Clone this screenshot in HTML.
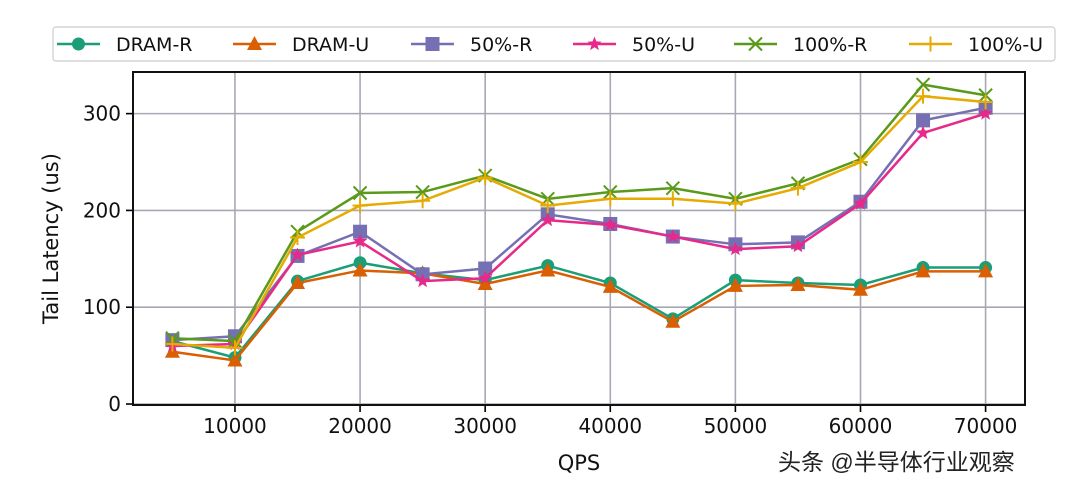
<!DOCTYPE html>
<html><head><meta charset="utf-8"><style>
html,body{margin:0;padding:0;background:#fff;}
svg{display:block;font-family:"DejaVu Sans","Liberation Sans","Noto Sans CJK SC",sans-serif;}
</style></head><body>
<svg id="chart" width="1072" height="488" viewBox="0 0 1072 488"></svg>
<script>
const qps=[5000,10000,15000,20000,25000,30000,35000,40000,45000,50000,55000,60000,65000,70000];
const dramR=[65,48,127,146,135,128,143,125,88,128,125,123,141,141];
const dramU=[54,45,125,138,135,124,138,121,85,122,123,118,137,137];
const half_R=[66,70,153,178,134,140,196,186,173,165,167,209,293,306];
const half_U=[60,62,154,168,127,130,190,185,173,160,163,207,280,300];
const full_R=[68,65,178,218,219,236,212,219,223,212,228,253,330,319];
const full_U=[62,58,172,205,210,234,205,212,212,207,223,250,318,312];
const xTicks=[10000,20000,30000,40000,50000,60000,70000];
const yTicks=[0,100,200,300];
const seriesNames=["DRAM-R","DRAM-U","50%-R","50%-U","100%-R","100%-U"];

const NS="http://www.w3.org/2000/svg";
const svg=document.getElementById('chart');
const L=133,R=1025,T=72,B=405;
const xMin=1850,xMax=73150,yMin=-1,yMax=343;
const X=q=>L+(q-xMin)/(xMax-xMin)*(R-L);
const Y=v=>B-(v-yMin)/(yMax-yMin)*(B-T);
function mk(tag,attrs,parent){const e=document.createElementNS(NS,tag);for(const k in attrs)e.setAttribute(k,attrs[k]);(parent||svg).appendChild(e);return e;}

xTicks.forEach(t=>{
  const g=mk('line',{x1:X(t),x2:X(t),y1:T,y2:B,stroke:'#a8a8b4','stroke-width':1.6});
  
  
  mk('line',{x1:X(t),x2:X(t),y1:B,y2:B+7,stroke:'#000','stroke-width':1.6});
  const tx=mk('text',{x:X(t),y:B+28,'text-anchor':'middle','font-size':20,fill:'#111'});
  tx.textContent=t;
  
  
});
yTicks.forEach(t=>{
  const g=mk('line',{x1:L,x2:R,y1:Y(t),y2:Y(t),stroke:'#a8a8b4','stroke-width':1.6});
  
  
  mk('line',{x1:L-7,x2:L,y1:Y(t),y2:Y(t),stroke:'#000','stroke-width':1.6});
  const tx=mk('text',{x:L-12,y:Y(t)+7,'text-anchor':'end','font-size':20,fill:'#111'});
  tx.textContent=t;
  
  
});
const frame=mk('rect',{x:L,y:T,width:R-L,height:B-T,fill:'none',stroke:'#111','stroke-width':2});



const xt=mk('text',{x:(L+R)/2,y:470,'text-anchor':'middle','font-size':21,fill:'#111'});
xt.textContent='QPS';


const yt=mk('text',{x:58,y:(T+B)/2,'text-anchor':'middle','font-size':21,fill:'#111',transform:`rotate(-90 58 ${(T+B)/2})`});
yt.textContent='Tail Latency (us)';



function marker(type,x,y,c,p){
  if(type==='circle')return mk('circle',{cx:x,cy:y,r:6.5,fill:c},p);
  if(type==='tri')return mk('polygon',{points:`${x},${y-8} ${x-7.5},${y+6} ${x+7.5},${y+6}`,fill:c},p);
  if(type==='square')return mk('rect',{x:x-7,y:y-7,width:14,height:14,fill:c},p);
  if(type==='star'){let pts=[];for(let i=0;i<10;i++){const r=i%2?3.2:7.5;const a=-Math.PI/2+i*Math.PI/5;pts.push((x+r*Math.cos(a)).toFixed(1)+','+(y+r*Math.sin(a)).toFixed(1));}return mk('polygon',{points:pts.join(' '),fill:c},p);}
  if(type==='x'){const g=mk('g',{},p);mk('line',{x1:x-6.5,y1:y-6.5,x2:x+6.5,y2:y+6.5,stroke:c,'stroke-width':2},g);mk('line',{x1:x-6.5,y1:y+6.5,x2:x+6.5,y2:y-6.5,stroke:c,'stroke-width':2},g);return g;}
  if(type==='plus'){const g=mk('g',{},p);mk('line',{x1:x-7.5,y1:y,x2:x+7.5,y2:y,stroke:c,'stroke-width':2},g);mk('line',{x1:x,y1:y-7.5,x2:x,y2:y+7.5,stroke:c,'stroke-width':2},g);return g;}
}
const series=[
 [dramR,'#1b9e77','circle','dram-r'],[dramU,'#d95f02','tri','dram-u'],
 [half_R,'#7570b3','square','50pct-r'],[half_U,'#e7298a','star','50pct-u'],
 [full_R,'#5a9a1a','x','100pct-r'],[full_U,'#e6ab02','plus','100pct-u']];
series.forEach(([vals,c,m,nm])=>{
  const g=mk('g',{});
  
  
  const pl=mk('polyline',{points:vals.map((v,i)=>X(qps[i])+','+Y(v)).join(' '),fill:'none',stroke:c,'stroke-width':2.5},g);
  
  
  vals.forEach((v,i)=>{const mm=marker(m,X(qps[i]),Y(v),c,g);
    
    });
});

const lg=mk('g',{});


mk('rect',{x:53,y:27,width:1002,height:34,rx:3,fill:'#fff',stroke:'#ccc','stroke-width':1.2},lg);
const legTextX=[116,292,470,632,793,968];
series.forEach(([vals,c,m,nm],i)=>{
  const tx0=legTextX[i], x0=tx0-59, y0=44;
  const e=mk('g',{},lg);
  
  
  mk('line',{x1:x0,x2:x0+43,y1:y0,y2:y0,stroke:c,'stroke-width':2.5},e);
  marker(m,x0+21.5,y0,c,e);
  const t=mk('text',{x:tx0,y:y0+7,'font-size':19,fill:'#111'},e);
  t.textContent=seriesNames[i];
});

const wm=mk('text',{x:778,y:470,'font-size':23,fill:'#222','font-family':'"Liberation Sans","Noto Sans CJK SC",sans-serif'});
wm.textContent='头条 @半导体行业观察';


</script>
</body></html>
